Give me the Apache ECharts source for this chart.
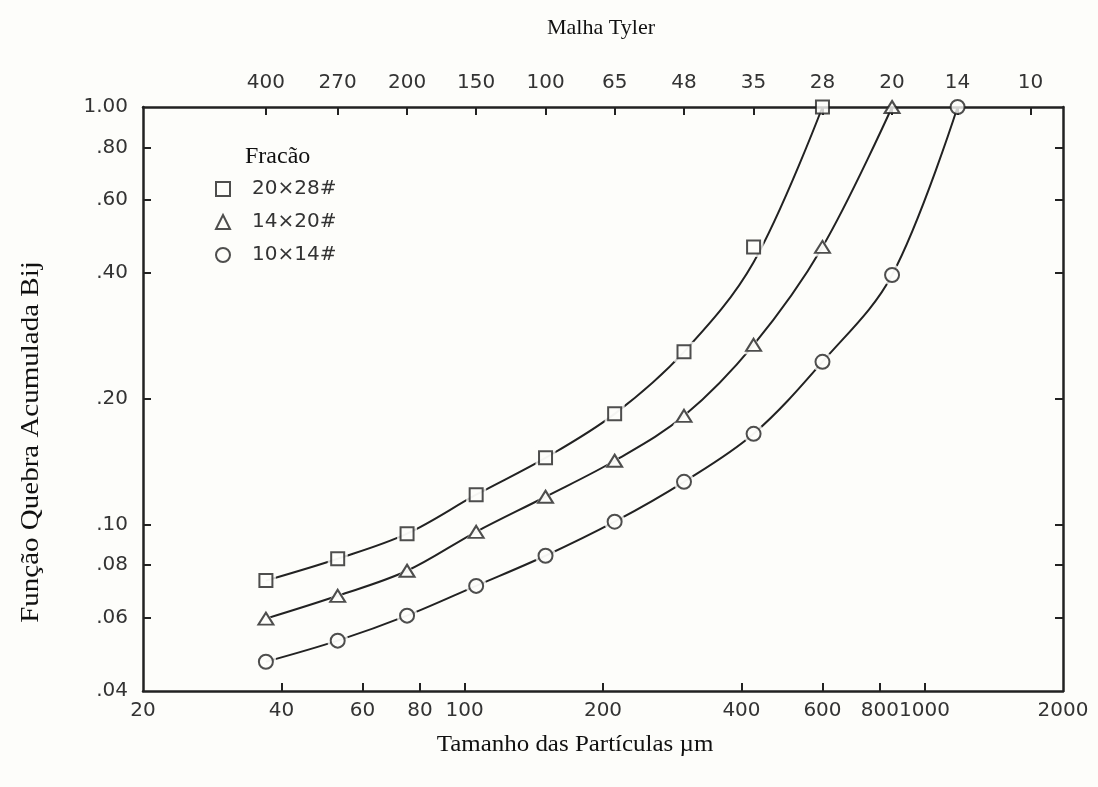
<!DOCTYPE html>
<html>
<head>
<meta charset="utf-8">
<title>Função Quebra Acumulada</title>
<script src="https://cdn.jsdelivr.net/npm/echarts@6/dist/echarts.min.js"></script>
<style>
  html, body { margin: 0; padding: 0; background: #fdfdfa; }
  #chart { width: 1098px; height: 787px; }
</style>
</head>
<body>
<div id="chart"></div>
<script>
// Tyler mesh openings (µm) and the mesh numbers printed on the top axis
const meshSizes = [37, 53, 75, 106, 150, 212, 300, 425, 600, 850, 1180, 1700]
const meshLabels = ['400', '270', '200', '150', '100', '65', '48', '35', '28', '20', '14', '10']

const xLabelValues = [20, 40, 60, 80, 100, 200, 400, 600, 800, 1000, 2000]
const xTickValues = [40, 60, 80, 100, 200, 400, 600, 800, 1000]
const yLabelValues = [0.04, 0.06, 0.08, 0.10, 0.20, 0.40, 0.60, 0.80, 1.00]
const yTickValues = [0.06, 0.08, 0.10, 0.20, 0.40, 0.60, 0.80]

// fraction 20x28#
const size20x28 = [37, 53, 75, 106, 150, 212, 300, 425, 600]
const bij20x28 = [0.0735, 0.0829, 0.0952, 0.118, 0.1446, 0.1843, 0.2594, 0.4624, 1.0]
const fit20x28 = [0.0735, 0.0829, 0.0952, 0.118, 0.1446, 0.1843, 0.2594, 0.425, 1.0]

// fraction 14x20#
const size14x20 = [37, 53, 75, 106, 150, 212, 300, 425, 600, 850]
const bij14x20 = [0.0596, 0.0676, 0.0776, 0.0962, 0.1167, 0.1423, 0.1823, 0.2696, 0.4624, 1.0]

// fraction 10x14#
const size10x14 = [37, 53, 75, 106, 150, 212, 300, 425, 600, 850, 1180]
const bij10x14 = [0.047, 0.0528, 0.0606, 0.0714, 0.0843, 0.1017, 0.1267, 0.1651, 0.2455, 0.3962, 1.0]

const bg = '#fdfdfa'
const ink = '#222'
const labelFont = 'DejaVu Sans'
const titleFont = 'Liberation Serif'

function pairs(xs, ys) {
  return xs.map((x, i) => [x, ys[i]])
}

function meshFormatter(v) {
  let best = 0
  meshSizes.forEach((s, i) => {
    if (Math.abs(s - v) < Math.abs(meshSizes[best] - v)) best = i
  })
  return meshLabels[best]
}

function yFormatter(v) {
  if (v >= 0.999) return '1.00'
  return (+v).toFixed(2).slice(1)
}

const fractions = [
  { name: '20\u00d728#', symbol: 'rect', size: 13, xs: size20x28, pts: bij20x28, fit: fit20x28 },
  { name: '14\u00d720#', symbol: 'triangle', size: [15, 12], xs: size14x20, pts: bij14x20, fit: bij14x20 },
  { name: '10\u00d714#', symbol: 'circle', size: 14, xs: size10x14, pts: bij10x14, fit: bij10x14 }
]

let series = []
fractions.forEach(f => {
  series.push({
    type: 'line',
    data: pairs(f.xs, f.fit),
    smooth: 0.35,
    showSymbol: false,
    silent: true,
    lineStyle: { color: ink, width: 2 },
    z: 2
  })
  // white halo so the curve stops short of each marker
  series.push({
    type: 'scatter',
    data: pairs(f.xs, f.pts).filter(p => p[1] < 1),
    symbol: f.symbol,
    symbolSize: Array.isArray(f.size) ? [f.size[0] + 7, f.size[1] + 7] : f.size + 7,
    itemStyle: { color: bg },
    silent: true,
    z: 3
  })
  series.push({
    type: 'scatter',
    name: f.name,
    data: pairs(f.xs, f.pts),
    symbol: f.symbol,
    symbolSize: f.size,
    itemStyle: { color: bg, borderColor: ink, borderWidth: 2 },
    z: 4
  })
})

const axisLine = { lineStyle: { color: ink, width: 2.5 } }
const tickLine = { color: ink, width: 2 }
const labelStyle = { color: '#333', fontFamily: labelFont, fontSize: 20 }

const option = {
  backgroundColor: bg,
  animation: false,
  grid: { left: 143, right: 35, top: 107, bottom: 96 },
  legend: {
    data: fractions.map(f => f.name),
    orient: 'vertical',
    left: 210,
    top: 174,
    itemWidth: 14,
    itemHeight: 14,
    itemGap: 13,
    textStyle: { color: '#333', fontFamily: labelFont, fontSize: 20, padding: [0, 0, 0, 17] }
  },
  xAxis: [
    {
      type: 'log', min: 20, max: 2000, position: 'bottom',
      axisLine: axisLine,
      axisTick: { inside: true, length: 8, customValues: xTickValues, lineStyle: tickLine },
      axisLabel: { customValues: xLabelValues, margin: 10, formatter: v => String(Math.round(v)), ...labelStyle },
      splitLine: { show: false }
    },
    {
      type: 'log', min: 20, max: 2000, position: 'top',
      axisLine: axisLine,
      axisTick: { inside: true, length: 8, customValues: meshSizes, lineStyle: tickLine },
      axisLabel: { customValues: meshSizes, margin: 14, formatter: meshFormatter, ...labelStyle },
      splitLine: { show: false }
    }
  ],
  yAxis: [
    {
      type: 'log', min: 0.04, max: 1, position: 'left',
      axisLine: axisLine,
      axisTick: { inside: true, length: 8, customValues: yTickValues, lineStyle: tickLine },
      axisLabel: { customValues: yLabelValues, margin: 15, formatter: yFormatter, ...labelStyle },
      splitLine: { show: false }
    },
    {
      type: 'log', min: 0.04, max: 1, position: 'right',
      axisLine: axisLine,
      axisTick: { inside: true, length: 8, customValues: yTickValues, lineStyle: tickLine },
      axisLabel: { show: false },
      splitLine: { show: false }
    }
  ],
  graphic: [
    {
      type: 'text', x: 245, y: 157,
      style: { text: 'Fracão', font: '24px "' + titleFont + '"', fill: '#111', verticalAlign: 'middle' }
    },
    {
      type: 'text', x: 601, y: 28, scaleX: 1.05,
      style: { text: 'Malha Tyler', font: '21px "' + titleFont + '"', fill: '#111', align: 'center', verticalAlign: 'middle' }
    },
    {
      type: 'text', x: 575, y: 745, scaleX: 1.04,
      style: { text: 'Tamanho das Partículas µm', font: '24px "' + titleFont + '"', fill: '#111', align: 'center', verticalAlign: 'middle' }
    },
    {
      type: 'text', x: 31, y: 442, rotation: Math.PI / 2, scaleX: 1.16,
      style: { text: 'Função Quebra Acumulada Bij', font: '25px "' + titleFont + '"', fill: '#111', align: 'center', verticalAlign: 'middle' }
    }
  ],
  series: series
}

const chart = echarts.init(document.getElementById('chart'))
chart.setOption(option)
window.addEventListener('resize', () => chart.resize())
</script>
</body>
</html>
